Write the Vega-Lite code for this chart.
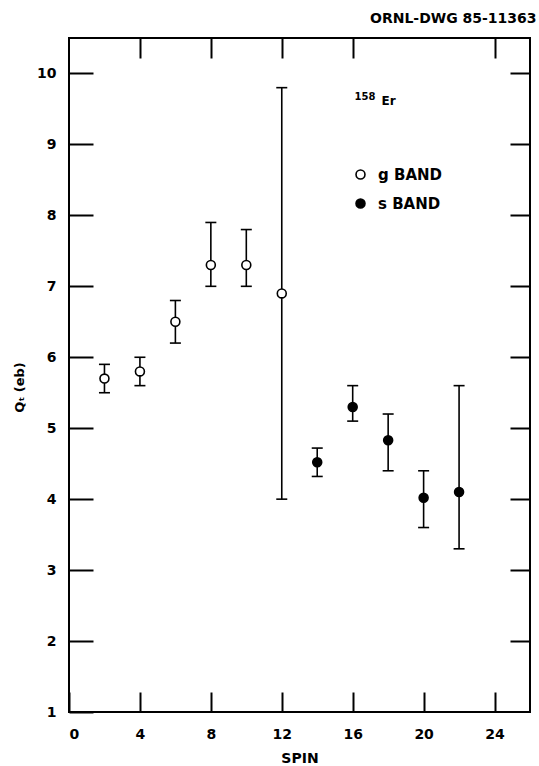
{
  "$schema": "https://vega.github.io/schema/vega-lite/v6.json",
  "width": 461,
  "height": 674,
  "autosize": {"type": "none"},
  "padding": {"left": 69, "top": 38, "right": 9, "bottom": 54},
  "background": "white",
  "config": {
    "view": {"stroke": "black", "strokeWidth": 2},
    "font": "DejaVu Sans",
    "axis": {
      "domain": false,
      "grid": false,
      "tickColor": "black",
      "tickWidth": 2,
      "tickSize": -20,
      "labelColor": "black",
      "labelFont": "DejaVu Sans",
      "labelFontWeight": "bold",
      "labelFontSize": 14,
      "titleColor": "black",
      "titleFont": "DejaVu Sans",
      "titleFontWeight": "bold",
      "titleFontSize": 13
    }
  },
  "title": {
    "text": "ORNL-DWG 85-11363",
    "anchor": "start",
    "frame": "group",
    "dx": 301,
    "offset": 11,
    "font": "DejaVu Sans",
    "fontWeight": "bold",
    "fontSize": 14,
    "color": "black"
  },
  "data": {
    "values": [
      {"spin": 2, "q": 5.7, "lo": 5.5, "hi": 5.9, "band": "g BAND"},
      {"spin": 4, "q": 5.8, "lo": 5.6, "hi": 6.0, "band": "g BAND"},
      {"spin": 6, "q": 6.5, "lo": 6.2, "hi": 6.8, "band": "g BAND"},
      {"spin": 8, "q": 7.3, "lo": 7.0, "hi": 7.9, "band": "g BAND"},
      {"spin": 10, "q": 7.3, "lo": 7.0, "hi": 7.8, "band": "g BAND"},
      {"spin": 12, "q": 6.9, "lo": 4.0, "hi": 9.8, "band": "g BAND"},
      {"spin": 14, "q": 4.52, "lo": 4.32, "hi": 4.72, "band": "s BAND"},
      {"spin": 16, "q": 5.3, "lo": 5.1, "hi": 5.6, "band": "s BAND"},
      {"spin": 18, "q": 4.83, "lo": 4.4, "hi": 5.2, "band": "s BAND"},
      {"spin": 20, "q": 4.02, "lo": 3.6, "hi": 4.4, "band": "s BAND"},
      {"spin": 22, "q": 4.1, "lo": 3.3, "hi": 5.6, "band": "s BAND"}
    ]
  },
  "layer": [
    {
      "mark": {"type": "rule", "stroke": "black", "strokeWidth": 1.6},
      "encoding": {
        "x": {
          "field": "spin", "type": "quantitative",
          "scale": {"domain": [0, 26], "nice": false, "zero": false},
          "axis": {
            "orient": "bottom", "values": [0, 4, 8, 12, 16, 20, 24],
            "labelPadding": 35, "title": "SPIN", "titleFontSize": 14,
            "titleBaseline": "middle", "titleY": 46
          }
        },
        "y": {
          "field": "lo", "type": "quantitative",
          "scale": {"domain": [1, 10.5], "nice": false, "zero": false},
          "axis": {
            "orient": "left", "values": [1, 2, 3, 4, 5, 6, 7, 8, 9, 10],
            "tickSize": -24, "labelPadding": 37, "title": "Qₜ (eb)",
            "titleBaseline": "middle", "titleX": -50, "titleY": 349
          }
        },
        "y2": {"field": "hi"}
      }
    },
    {
      "mark": {"type": "point", "shape": "circle", "size": 80, "filled": true, "stroke": "black", "strokeWidth": 1.6, "opacity": 1},
      "encoding": {
        "x": {
          "field": "spin", "type": "quantitative",
          "axis": {"orient": "top", "values": [4, 8, 12, 16, 24], "labels": false, "title": null}
        },
        "y": {
          "field": "q", "type": "quantitative",
          "axis": {"orient": "right", "values": [2, 3, 4, 5, 6, 7, 8, 9, 10], "labels": false, "title": null}
        },
        "fill": {
          "field": "band", "type": "nominal",
          "scale": {"domain": ["g BAND", "s BAND"], "range": ["white", "black"]},
          "legend": {
            "orient": "none", "legendX": 284, "legendY": 129, "title": null,
            "symbolType": "circle", "symbolSize": 80, "symbolStrokeColor": "black", "symbolStrokeWidth": 1.6,
            "labelFont": "DejaVu Sans", "labelFontWeight": "bold", "labelFontSize": 15, "labelColor": "black",
            "rowPadding": 12, "labelOffset": 10
          }
        }
      }
    },
    {
      "mark": {"type": "tick", "orient": "horizontal", "size": 11, "thickness": 1.6, "color": "black", "opacity": 1},
      "encoding": {
        "x": {"field": "spin", "type": "quantitative", "axis": null},
        "y": {"field": "lo", "type": "quantitative", "axis": null}
      }
    },
    {
      "mark": {"type": "tick", "orient": "horizontal", "size": 11, "thickness": 1.6, "color": "black", "opacity": 1},
      "encoding": {
        "x": {"field": "spin", "type": "quantitative", "axis": null},
        "y": {"field": "hi", "type": "quantitative", "axis": null}
      }
    },
    {
      "data": {"values": [{"spin": 16.1, "q": 9.62, "mass": "158", "el": "Er"}]},
      "layer": [
        {
          "mark": {"type": "text", "font": "DejaVu Sans", "fontWeight": "bold", "fontSize": 10, "color": "black", "align": "left", "baseline": "alphabetic"},
          "encoding": {
            "x": {"field": "spin", "type": "quantitative", "axis": null},
            "y": {"field": "q", "type": "quantitative", "axis": null},
            "text": {"field": "mass"}
          }
        },
        {
          "mark": {"type": "text", "font": "DejaVu Sans", "fontWeight": "bold", "fontSize": 12, "color": "black", "align": "left", "baseline": "alphabetic", "dx": 27, "dy": 5},
          "encoding": {
            "x": {"field": "spin", "type": "quantitative", "axis": null},
            "y": {"field": "q", "type": "quantitative", "axis": null},
            "text": {"field": "el"}
          }
        }
      ]
    }
  ],
  "resolve": {"axis": {"x": "independent", "y": "independent"}}
}
